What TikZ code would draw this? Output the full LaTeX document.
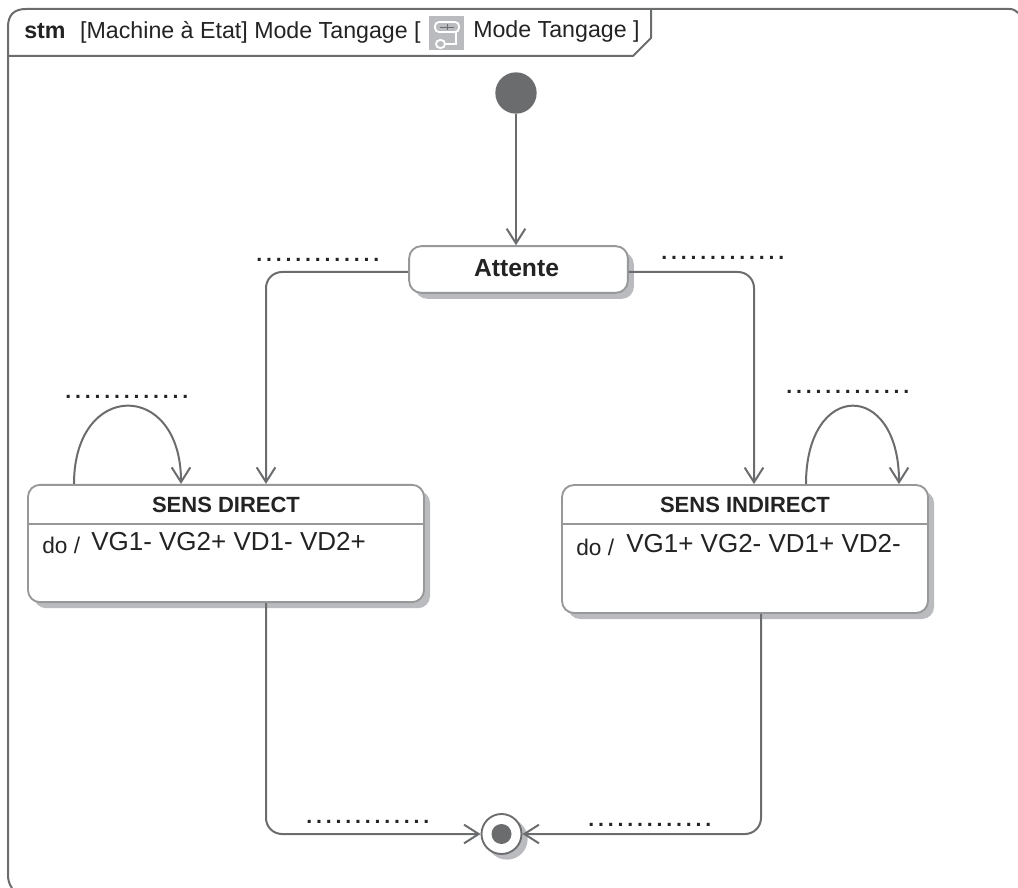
\documentclass[tikz,border=0pt]{standalone}
\usepackage{fontspec}
\setmainfont{Liberation Sans}
\newfontfamily\dotsfont[LetterSpace=18]{Liberation Sans Bold}
\usetikzlibrary{arrows.meta,shadows}
\definecolor{linegray}{RGB}{107,108,110}
\definecolor{shadowgray}{RGB}{186,187,190}
\definecolor{inkgray}{RGB}{35,35,35}
\tikzset{
	statebox/.style={draw=linegray!70,line width=1.4pt,fill=white,rounded corners=9pt,inner sep=0pt,
		drop shadow={shadow xshift=4.5pt,shadow yshift=-4.5pt,opacity=1,fill=shadowgray}},
	trans/.style={draw=linegray,line width=1.5pt,rounded corners=12pt,-{Straight Barb[length=11pt,width=14pt,line width=1.5pt]}},
	dotlabel/.style={inner sep=0pt,font=\dotsfont\fontsize{16}{16}\selectfont,text=inkgray},
	txt/.style={inner sep=0pt,text=inkgray,font=\fontsize{#1}{#1}\selectfont},
}

\begin{document}
\begin{tikzpicture}[x=0.75pt,y=0.75pt,yscale=-1,xscale=1]
	\useasboundingbox (0,0) rectangle (1018,888);
	% frame and tab
	\draw [linegray,line width=1.5pt] (1018,13) .. controls (1015,10) and (1013,9) .. (1009,9) -- (26,9) .. controls (14,9) and (8,15) .. (8,27) -- (8,874) .. controls (8,880) and (9,884) .. (12,888) ;
	\draw [linegray,line width=1.5pt] (8,56) -- (633,56) -- (651,38) -- (651,9) ;
	\node [txt=17.4,anchor=west] (title) at (24,32) {\textbf{stm}\hspace{11pt}[Machine à Etat] Mode Tangage [};
	\node [fill=shadowgray,minimum width=26pt,minimum height=26pt,inner sep=0pt] (icon) at (446.5,33) {};
	\draw [white,line width=1.4pt,rounded corners=3pt] (435,22) rectangle (459,32) (436,40) rectangle (445,48) ;
	\draw [white,line width=1.2pt] (456,32) -- (456,44) -- (445,44) ;
	\draw [linegray,line width=0.7pt] (440,27) -- (454,27) (447,24) -- (447,30) ;
	\node [txt=17.4,anchor=west] (titleb) at (473,32) {Mode Tangage ]};
	% states
	\node [circle,fill=linegray,minimum size=31pt,inner sep=0pt] (init) at (516,93) {};
	\node [statebox,minimum width=164pt,minimum height=35pt] (attente) at (518.5,269.5) {};
	\node [txt=18.5,anchor=center] (attentetxt) at (516.5,268) {\textbf{Attente}};
	\node [statebox,minimum width=297pt,minimum height=88pt] (sensdirect) at (226,543.5) {};
	\node [statebox,minimum width=274.5pt,minimum height=96pt] (sensindirect) at (745,549) {};
	\draw [linegray!70,line width=1pt] (sensdirect.west |- 0,524) -- (sensdirect.east |- 0,524) ;
	\draw [linegray!70,line width=1pt] (sensindirect.west |- 0,524) -- (sensindirect.east |- 0,524) ;
	\node [txt=16.5,anchor=center] (directname) at (226,505) {\textbf{SENS DIRECT}};
	\node [txt=16.5,anchor=center] (indirectname) at (745,505) {\textbf{SENS INDIRECT}};
	\node [txt=17,anchor=base west] (directdo) at (42,553) {do /};
	\node [txt=19.5,anchor=base west] (directact) at (91,550.5) {VG1- VG2+ VD1- VD2+};
	\node [txt=17,anchor=base west] (indirectdo) at (576,555) {do /};
	\node [txt=19.5,anchor=base west] (indirectact) at (626,552.5) {VG1+ VG2- VD1+ VD2-};
	% final state
	\node [circle,fill=shadowgray,minimum size=31pt,inner sep=0pt] (finalshadow) at (507,839) {};
	\node [circle,draw=linegray,line width=1.4pt,fill=white,minimum size=30pt,inner sep=0pt] (final) at (501.5,834) {};
	\node [circle,fill=linegray,minimum size=15pt,inner sep=0pt] (finaldot) at (501.5,834) {};
	% transitions
	\draw [trans] (init) -- (attente.north -| init) ;
	\draw [trans] (attente.west |- 0,272) -- (266,272) -- (266,0 |- sensdirect.north) ;
	\draw [trans] (attente.east |- 0,272) -- (754,272) -- (754,0 |- sensindirect.north) ;
	\draw [trans] (266,0 |- sensdirect.south) -- (266,834) -- (final) ;
	\draw [trans] (761,0 |- sensindirect.south) -- (761,834) -- (final) ;
	\draw [trans] (74,0 |- sensdirect.north) .. controls (74,380) and (181,380) .. (181,0 |- sensdirect.north) ;
	\draw [trans] (806,0 |- sensindirect.north) .. controls (806,380) and (899,380) .. (899,0 |- sensindirect.north) ;
	% dotted labels
	\node [dotlabel,anchor=base west] (lblattd) at (256,262) {.............};
	\node [dotlabel,anchor=base west] (lblatti) at (661,260) {.............};
	\node [dotlabel,anchor=base west] (lblselfd) at (65,398) {.............};
	\node [dotlabel,anchor=base west] (lblselfi) at (786,393) {.............};
	\node [dotlabel,anchor=base west] (lblfind) at (306,823) {.............};
	\node [dotlabel,anchor=base west] (lblfini) at (588,826) {.............};
\end{tikzpicture}
\end{document}
